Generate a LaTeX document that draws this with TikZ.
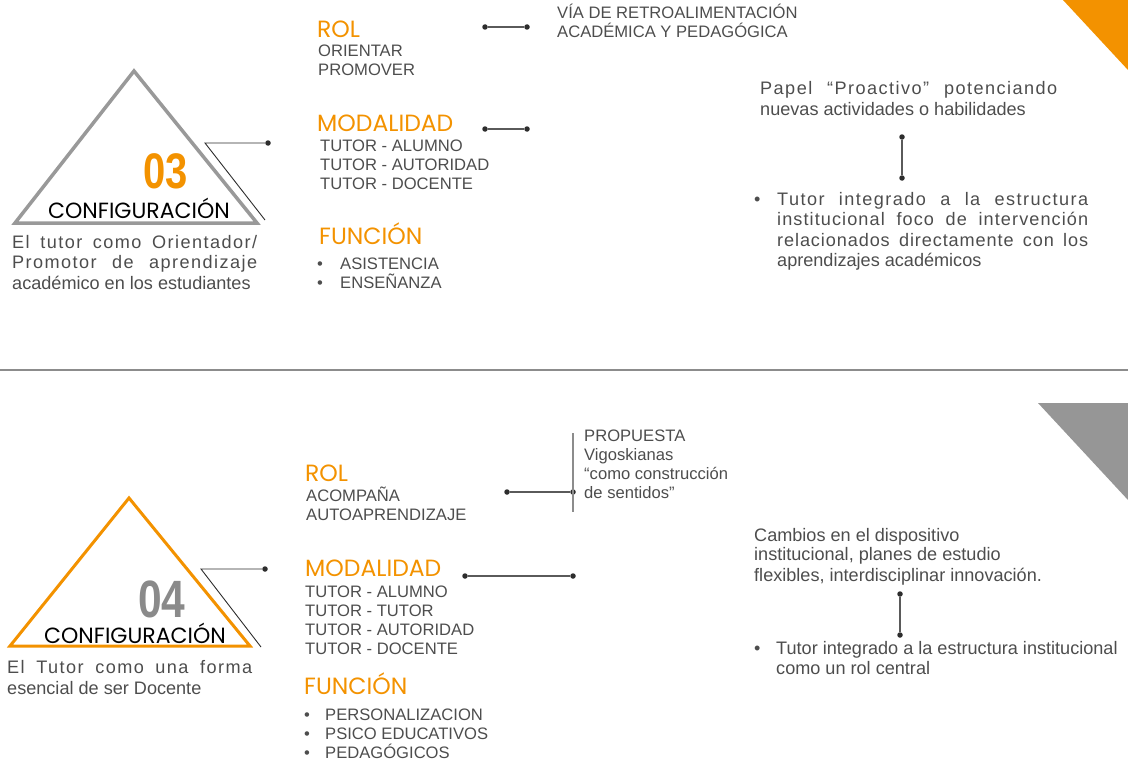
\documentclass[tikz,border=0pt]{standalone}
\usepackage{fontspec}
\setmainfont{Liberation Sans}
\newfontfamily\headfont{Poppins}
\definecolor{orng}{RGB}{243,146,0}
\definecolor{txtgray}{RGB}{77,77,77}
\definecolor{trigray}{RGB}{153,153,153}
\definecolor{cornergray}{RGB}{150,150,150}
\definecolor{numgray}{RGB}{138,138,138}
\definecolor{linec}{RGB}{90,90,90}
\definecolor{dotc}{RGB}{45,45,45}
\definecolor{sepc}{RGB}{140,140,140}
\newcommand\jl[3]{{\addfontfeature{LetterSpace=#2}\makebox[#1pt][s]{#3}}}
\begin{document}
\begin{tikzpicture}[x=1pt,y=-1pt,
  body/.style={anchor=base west, inner sep=0pt, text=txtgray, font=\fontsize{18.1}{20}\selectfont},
  item/.style={anchor=base west, inner sep=0pt, text=txtgray, text height=11pt, text depth=0pt, font=\fontsize{16.6}{19}\selectfont},
  head/.style={anchor=base west, inner sep=0pt, text=orng, text height=16pt, text depth=0pt, font=\headfont\fontsize{23.5}{26}\selectfont},
  cfg/.style={anchor=base, inner sep=0pt, text=black, font=\headfont\fontsize{22}{24}\selectfont},
  num/.style={inner sep=0pt, font=\bfseries\fontsize{50}{50}\selectfont},
  dot/.style={circle, fill=dotc, inner sep=0pt, minimum size=5.5pt},
  link/.style={draw=linec, line width=1.2pt},
  bar/.style={draw=sepc, line width=1.5pt}]
\useasboundingbox (0,0) rectangle (1128,760);

% ---------------- top section ----------------
\fill[orng] (1063,0) -- (1128,0) -- (1128,70) -- cycle;
\draw[trigray, line width=3.5pt] (134,71) -- (257,223) -- (15,223) -- cycle;
\coordinate (c1k) at (205,143);
\node[dot] (c1d) at (268,143) {};
\coordinate (c1e) at (265,220);
\draw[draw=dotc, line width=0.9pt] (c1e) -- (c1k) -- (c1d);
\node[num, text=orng] (n03) at (166,171) {\scalebox{0.8}[1]{03}};
\node[cfg] (cfg1) at (139,218) {CONFIGURACIÓN};
\node[body] (e1) at (12,248) {\jl{245}{8}{El tutor como Orientador/}};
\node[body] (e2) at (12,268.5) {\jl{245}{8}{Promotor de aprendizaje}};
\node[body] (e3) at (12,289) {académico en los estudiantes};

\node[head] (rol1) at (317,37.5) {ROL};
\node[item] (r1a) at (318,57) {ORIENTAR};
\node[item] (r1b) at (318,76) {PROMOVER};
\node[dot] (d1a) at (485,27) {};
\node[dot] (d1b) at (527,27) {};
\draw[link] (d1a) -- (d1b);
\node[item] (via1) at (557,19) {VÍA DE RETROALIMENTACIÓN};
\node[item] (via2) at (557,38) {ACADÉMICA Y PEDAGÓGICA};

\node[head] (mod1) at (317,131.5) {MODALIDAD};
\node[dot] (d2a) at (485,129) {};
\node[dot] (d2b) at (527,129) {};
\draw[link] (d2a) -- (d2b);
\node[item] (m1a) at (320,151) {TUTOR - ALUMNO};
\node[item] (m1b) at (320,170) {TUTOR - AUTORIDAD};
\node[item] (m1c) at (320,189) {TUTOR - DOCENTE};

\node[head] (fun1) at (319,244) {FUNCIÓN};
\node[item] (b1a) at (317,269) {•};
\node[item] (f1a) at (340,269) {ASISTENCIA};
\node[item] (b1b) at (317,288) {•};
\node[item] (f1b) at (340,288) {ENSEÑANZA};

\node[body] (p1) at (760,95) {\jl{297}{8}{Papel “Proactivo” potenciando}};
\node[body] (p2) at (760,115) {nuevas actividades o habilidades};
\node[dot] (v1a) at (902,137) {};
\node[dot] (v1b) at (902,178) {};
\draw[link] (v1a) -- (v1b);
\node[body] (tb) at (754,205) {•};
\node[body] (t1) at (777,205) {\jl{311}{8}{Tutor integrado a la estructura}};
\node[body] (t2) at (777,225.5) {\jl{311}{6}{institucional foco de intervención}};
\node[body] (t3) at (777,246) {\jl{311}{5}{relacionados directamente con los}};
\node[body] (t4) at (777,266.5) {aprendizajes académicos};

% separator
\coordinate (sl) at (0,370);
\coordinate (sr) at (1128,370);
\draw[bar] (sl) -- (sr);

% ---------------- bottom section ----------------
\fill[cornergray] (1038,403) -- (1128,403) -- (1128,500) -- cycle;
\draw[orng, line width=3pt] (129,498) -- (250,646) -- (10,646) -- cycle;
\coordinate (c2k) at (201,569);
\node[dot] (c2d) at (265,569) {};
\coordinate (c2e) at (261,647);
\draw[draw=dotc, line width=0.9pt] (c2e) -- (c2k) -- (c2d);
\node[num, text=numgray] (n04) at (162,599) {\scalebox{0.85}[1.05]{04}};
\node[cfg] (cfg2) at (135,643) {CONFIGURACIÓN};
\node[body] (g1) at (7,673) {\jl{245}{8}{El Tutor como una forma}};
\node[body] (g2) at (7,694) {esencial de ser Docente};

\node[head] (rol2) at (305,481.5) {ROL};
\node[item] (r2a) at (306,501) {ACOMPAÑA};
\node[item] (r2b) at (306,520) {AUTOAPRENDIZAJE};
\node[dot] (d3a) at (507,492) {};
\node[dot] (d3b) at (573,492) {};
\draw[link] (d3a) -- (d3b);
\coordinate (vt) at (573,433);
\coordinate (vb) at (573,512);
\draw[bar] (vt) -- (vb);
\node[item] (pp1) at (584,441) {PROPUESTA};
\node[item] (pp2) at (584,460) {Vigoskianas};
\node[item] (pp3) at (584,479) {“como construcción};
\node[item] (pp4) at (584,498) {de sentidos”};

\node[head] (mod2) at (305,576) {MODALIDAD};
\node[dot] (d4a) at (465,576) {};
\node[dot] (d4b) at (573,576) {};
\draw[link] (d4a) -- (d4b);
\node[item] (m2a) at (305,597) {TUTOR - ALUMNO};
\node[item] (m2b) at (305,616) {TUTOR - TUTOR};
\node[item] (m2c) at (305,635) {TUTOR - AUTORIDAD};
\node[item] (m2d) at (305,654) {TUTOR - DOCENTE};

\node[head] (fun2) at (304,694) {FUNCIÓN};
\node[item] (b2a) at (304,720) {•};
\node[item] (f2a) at (325,720) {PERSONALIZACION};
\node[item] (b2b) at (304,739) {•};
\node[item] (f2b) at (325,739) {PSICO EDUCATIVOS};
\node[item] (b2c) at (304,758) {•};
\node[item] (f2c) at (325,758) {PEDAGÓGICOS};

\node[body] (k1) at (754,541) {Cambios en el dispositivo};
\node[body] (k2) at (754,560) {institucional, planes de estudio};
\node[body] (k3) at (754,581) {flexibles, interdisciplinar innovación.};
\node[dot] (v2a) at (900,594) {};
\node[dot] (v2b) at (900,635) {};
\draw[link] (v2a) -- (v2b);
\node[body] (ub) at (754,654) {•};
\node[body] (u1) at (776,654) {Tutor integrado a la estructura institucional};
\node[body] (u2) at (776,674) {como un rol central};
\end{tikzpicture}
\end{document}
